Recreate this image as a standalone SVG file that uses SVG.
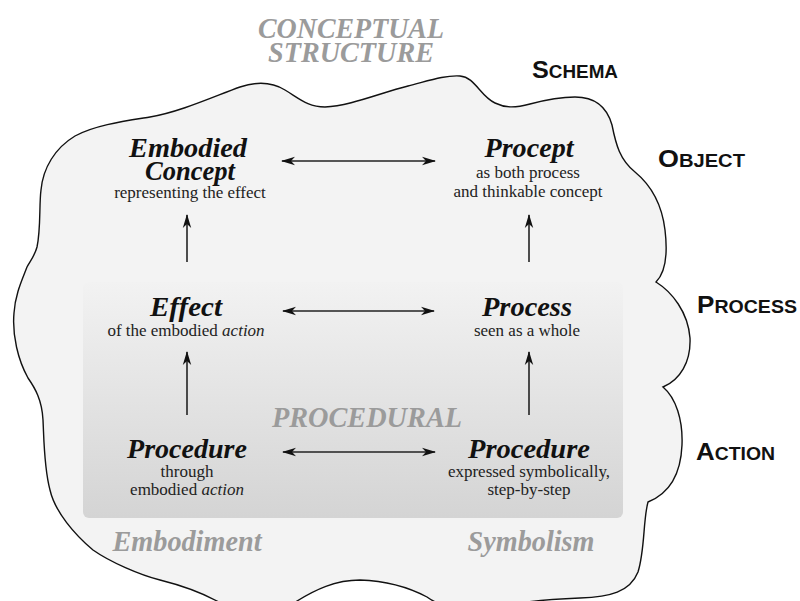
<svg xmlns="http://www.w3.org/2000/svg" width="800" height="601" viewBox="0 0 800 601">
<defs>
<linearGradient id="procGrad" x1="0" y1="0" x2="0" y2="1">
<stop offset="0" stop-color="#f2f2f2"/>
<stop offset="1" stop-color="#d4d4d4"/>
</linearGradient>
<marker id="ah" viewBox="0 0 14 10" refX="13" refY="5" markerWidth="14" markerHeight="10" orient="auto-start-reverse" markerUnits="userSpaceOnUse">
<path d="M0,0.8 L14,5 L0,9.2 L4,5 Z" fill="#111"/>
</marker>
<style>
.title{font-family:"Liberation Serif","Times New Roman",serif;font-weight:bold;font-style:italic;font-size:28px;fill:#111;text-anchor:middle}
.sub{font-family:"Liberation Serif","Times New Roman",serif;font-size:17px;fill:#222;text-anchor:middle}
.gray{font-family:"Liberation Serif","Times New Roman",serif;font-weight:bold;font-style:italic;font-size:29px;fill:#9b9b9b;text-anchor:middle}
.lvl{font-family:"Liberation Sans",Arial,sans-serif;font-weight:bold;font-size:18px;fill:#111}
.big{font-size:24px}
.it{font-style:italic}
.arr{stroke:#222;stroke-width:1.6;fill:none}
</style>
</defs>
<rect width="800" height="601" fill="#ffffff"/>
<g id="cloud">
<path d="M37,247 C41,228 39,205 41,190 C43,168 55,148 75,136 C95,125 125,121 150,117 C180,112 215,96 240,87 C258,81 272,82 285,90 C300,99 308,107 325,107 C350,106 380,93 408,86 C428,81 445,75 460,76 C475,77 480,96 495,103 C505,108 515,108 530,104 C545,100 560,97 575,97 C595,97 607,107 612,125 C616,145 620,160 635,172 C652,186 662,205 665,230 C668,255 666,272 656,282 C672,292 688,312 690,338 C691,362 680,380 663,387 C676,398 683,420 682,445 C681,470 673,492 648,502 C643,520 645,550 638,572 C630,592 610,597 580,598 C555,599 540,600 520,603 C490,610 450,614 427,597 C410,588 390,581 360,580 C335,580 315,590 297,601 C280,612 235,612 217,601 C200,592 180,585 160,580 C140,575 110,562 93,550 C75,535 55,512 50,490 C44,468 44,440 43,420 C42,400 35,388 28,378 C18,360 12,335 14,313 C15,295 22,280 27,267 C31,260 35,255 37,247 Z" fill="#f3f3f3" stroke="#111" stroke-width="1.4"/>
</g>
<g id="procedural-box">
<rect x="83" y="282" width="540" height="236" rx="6" fill="url(#procGrad)"/>
</g>
<g id="labels-gray">
<text class="gray" x="351" y="38" textLength="186" lengthAdjust="spacingAndGlyphs">CONCEPTUAL</text>
<text class="gray" x="351" y="62" textLength="166" lengthAdjust="spacingAndGlyphs">STRUCTURE</text>
<text class="gray" x="367" y="427" textLength="190" lengthAdjust="spacingAndGlyphs">PROCEDURAL</text>
<text class="gray" x="187" y="551" textLength="149" lengthAdjust="spacingAndGlyphs">Embodiment</text>
<text class="gray" x="531" y="551" textLength="127" lengthAdjust="spacingAndGlyphs">Symbolism</text>
</g>
<g id="levels">
<text class="lvl" x="532" y="78" textLength="86" lengthAdjust="spacingAndGlyphs"><tspan class="big">S</tspan>CHEMA</text>
<text class="lvl" x="658" y="167" textLength="87" lengthAdjust="spacingAndGlyphs"><tspan class="big">O</tspan>BJECT</text>
<text class="lvl" x="697" y="313" textLength="100" lengthAdjust="spacingAndGlyphs"><tspan class="big">P</tspan>ROCESS</text>
<text class="lvl" x="696" y="460" textLength="79" lengthAdjust="spacingAndGlyphs"><tspan class="big">A</tspan>CTION</text>
</g>
<g id="embodied-concept">
<text class="title" x="188" y="157" textLength="118" lengthAdjust="spacingAndGlyphs">Embodied</text>
<text class="title" x="190" y="180" textLength="90" lengthAdjust="spacingAndGlyphs">Concept</text>
<text class="sub" x="190" y="198">representing the effect</text>
</g>
<g id="procept">
<text class="title" x="529" y="157" textLength="89" lengthAdjust="spacingAndGlyphs">Procept</text>
<text class="sub" x="528" y="178">as both process</text>
<text class="sub" x="528" y="197">and thinkable concept</text>
</g>
<g id="effect">
<text class="title" x="186" y="316" textLength="72" lengthAdjust="spacingAndGlyphs">Effect</text>
<text class="sub" x="186" y="336">of the embodied <tspan class="it">action</tspan></text>
</g>
<g id="process">
<text class="title" x="527" y="316" textLength="90" lengthAdjust="spacingAndGlyphs">Process</text>
<text class="sub" x="527" y="336">seen as a whole</text>
</g>
<g id="procedure-embodied">
<text class="title" x="187" y="458" textLength="120" lengthAdjust="spacingAndGlyphs">Procedure</text>
<text class="sub" x="187" y="477">through</text>
<text class="sub" x="187" y="495">embodied <tspan class="it">action</tspan></text>
</g>
<g id="procedure-symbolic">
<text class="title" x="529" y="458" textLength="122" lengthAdjust="spacingAndGlyphs">Procedure</text>
<text class="sub" x="529" y="477">expressed symbolically,</text>
<text class="sub" x="529" y="495">step-by-step</text>
</g>
<g id="connectors">
<line class="arr" x1="282" y1="161" x2="435" y2="161" marker-start="url(#ah)" marker-end="url(#ah)"/>
<line class="arr" x1="283" y1="311" x2="434" y2="311" marker-start="url(#ah)" marker-end="url(#ah)"/>
<line class="arr" x1="283" y1="452" x2="435" y2="452" marker-start="url(#ah)" marker-end="url(#ah)"/>
<line class="arr" x1="187" y1="262" x2="187" y2="215" marker-end="url(#ah)"/>
<line class="arr" x1="529" y1="262" x2="529" y2="215" marker-end="url(#ah)"/>
<line class="arr" x1="187" y1="415" x2="187" y2="352" marker-end="url(#ah)"/>
<line class="arr" x1="529" y1="415" x2="529" y2="352" marker-end="url(#ah)"/>
</g>
</svg>
